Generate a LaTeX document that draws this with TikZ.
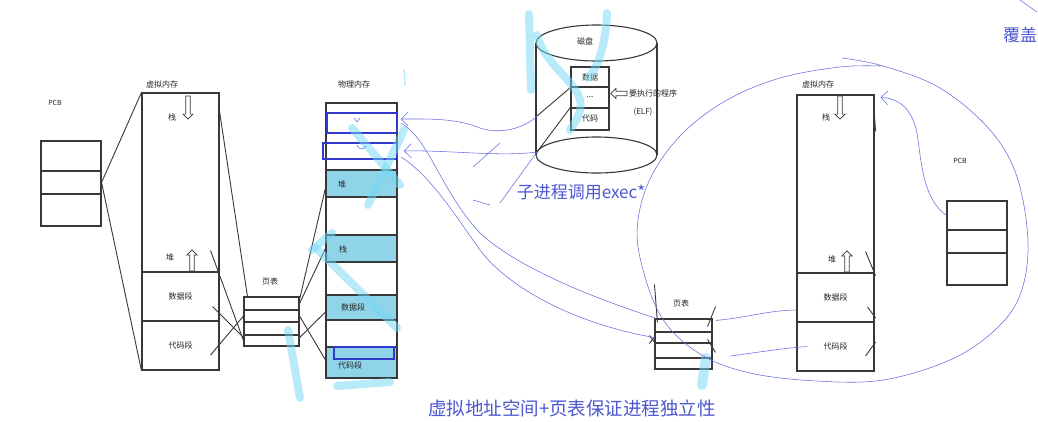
\documentclass[tikz,border=0pt]{standalone}
\usepackage{fontspec}
\setmainfont{Noto Sans CJK SC}
\usepackage{tikz}
\usetikzlibrary{arrows.meta, shapes.arrows, positioning, calc}

\begin{document}
\begin{tikzpicture}
            [
                x=1pt, y=-1pt,
                every node/.style={inner sep=0pt, font=\fontsize{8}{9}\selectfont, text=black!85},
                cell/.style={draw=lineGray, line width=1.1pt, fill=white},
                seg/.style={cell, fill=segCyan, minimum width=71pt},
                slot/.style={draw=slotBlue, line width=1.8pt},
                hollow/.style=
                {
                    single arrow, draw=lineGray, fill=white, line width=0.7pt,
                    inner sep=1.6pt, minimum width=10pt,
                    single arrow head extend=2.5pt, minimum height=#1
                },
                wire/.style={draw=lineGray, line width=0.9pt},
                pen/.style={draw=penBlue, line width=0.55pt},
                barb/.style={-{Straight Barb[length=7pt, width=14pt]}},
                hl/.style={draw=hlCyan, line width=8pt, line cap=round, opacity=0.5},
                note/.style={font=\fontsize{17}{20}\selectfont, text=noteBlue}
            ]
            \definecolor{lineGray}{rgb}{0.22, 0.22, 0.22}
            \definecolor{segCyan}{rgb}{0.56, 0.83, 0.91}
            \definecolor{slotBlue}{rgb}{0.2, 0.22, 0.8}
            \definecolor{penBlue}{rgb}{0.4, 0.43, 0.88}
            \definecolor{noteBlue}{rgb}{0.3, 0.34, 0.82}
            \definecolor{hlCyan}{rgb}{0.45, 0.85, 0.97}
            \path[fill=white, use as bounding box] (0,0) rectangle (1038,421);

            % parent process
            \node (pcbLTag) at (55,103) {\fontsize{7}{8}\selectfont PCB};
            \node[cell, minimum width=60pt, minimum height=30pt] (pcbLa) at (71,156) {};
            \node[cell, minimum width=60pt, minimum height=23pt] (pcbLb) at (71,182.5) {};
            \node[cell, minimum width=60pt, minimum height=32pt] (pcbLc) at (71,210) {};

            \node (vmLTag) at (162,84) {虚拟内存};
            \node[cell, minimum width=77pt, minimum height=179pt] (vmLtop) at (180.5,182.5) {};
            \node[cell, minimum width=77pt, minimum height=49pt] (vmLdata) at (180.5,296.5) {数据段};
            \node[cell, minimum width=77pt, minimum height=49pt] (vmLcode) at (180.5,345.5) {代码段};
            \node (vmLstack) at (172,117) {栈};
            \node (vmLheap) at (170,257) {堆};
            \node[hollow=23pt, rotate=-90] (vmLdown) at (188,106.5) {};
            \node[hollow=21pt, rotate=90] (vmLup) at (192,261.5) {};

            \node (ptLTag) at (270,281) {页表};
            \node[cell, minimum width=55pt, minimum height=13pt] (ptLa) at (271.5,303.5) {};
            \node[cell, minimum width=55pt, minimum height=12pt] (ptLb) at (271.5,316) {};
            \node[cell, minimum width=55pt, minimum height=13pt] (ptLc) at (271.5,328.5) {};
            \node[cell, minimum width=55pt, minimum height=11pt] (ptLd) at (271.5,340.5) {};

            % physical memory
            \node (pmTag) at (354,84) {物理内存};
            \node[cell, minimum width=71pt, minimum height=275pt] (pm) at (361.5,240.5) {};
            \node[seg, minimum height=27pt] (pmHeap) at (361.5,183.5) {};
            \node[seg, minimum height=27pt] (pmStack) at (361.5,248.5) {};
            \node[seg, minimum height=25pt] (pmData) at (361.5,307.5) {};
            \node[seg, minimum height=31pt] (pmCode) at (361.5,362.5) {};
            \node (pmHeapTxt) at (342,184) {堆};
            \node (pmStackTxt) at (343,249) {栈};
            \node (pmDataTxt) at (353,307) {数据段};
            \node (pmCodeTxt) at (350,365) {代码段};
            \node[slot, minimum width=70pt, minimum height=20pt] (pmSlotA) at (362,123) {};
            \node[slot, minimum width=74pt, minimum height=16pt] (pmSlotB) at (360,151) {};
            \node[slot, minimum width=60pt, minimum height=12pt] (pmSlotC) at (364,353) {};

            \draw[wire] (pcbLb.east) -- (vmLtop.north west);
            \draw[wire] (pcbLb.east) -- (vmLcode.south west);
            \draw[wire] ([yshift=-19pt]vmLtop.north east) -- ([xshift=4pt]ptLa.north west);
            \draw[wire] ([shift={(-9pt,22pt)}]vmLtop.south east) -- (ptLd.west);
            \draw[wire] ([shift={(-7pt,-10pt)}]vmLdata.east) -- ([yshift=-2pt]ptLc.south west);
            \draw[wire] ([shift={(-9pt,-9.5pt)}]vmLcode.east) -- (ptLb.west);
            \draw[wire] ([yshift=-3pt]ptLa.north east) -- ([yshift=-4.5pt]pmHeap.west);
            \draw[wire] (ptLa.east) -- (pmStack.west);
            \draw[wire] ([yshift=-2pt]ptLc.south east) -- ([yshift=-4.5pt]pmData.west);
            \draw[wire] (ptLb.east) -- ([yshift=2.5pt]pmCode.west);

            % disk
            \draw[wire, line width=1.1pt] (536,43) -- (536,155) (657,43) -- (657,155);
            \draw[wire, line width=1.1pt] (596.5,43) ellipse [x radius=60.5pt, y radius=18pt];
            \draw[wire, line width=1.1pt] (596.5,155) ellipse [x radius=60.5pt, y radius=18pt];
            \node (diskTag) at (585,41) {磁盘};
            \node[cell, minimum width=38pt, minimum height=20pt] (elfA) at (590,77) {数据};
            \node[cell, minimum width=38pt, minimum height=21pt] (elfB) at (590,97.5) {...};
            \node[cell, minimum width=38pt, minimum height=22pt] (elfC) at (590,119) {代码};
            \node[hollow=16pt, rotate=180] (elfPtr) at (620,93.5) {};
            \node[anchor=west] (elfTag) at (629,93) {要执行的程序};
            \node (elfKind) at (643,112) {(ELF)};
            \coordinate (diskL1) at (537,116);
            \coordinate (diskL2) at (537,152);
            \draw[wire] (elfA.south west) -- (diskL1);
            \draw[wire] (elfC.north west) -- (diskL2);

            % child process
            \node (vmRTag) at (818,84) {虚拟内存};
            \node[cell, minimum width=77pt, minimum height=178pt] (vmRtop) at (835.5,184) {};
            \node[cell, minimum width=77pt, minimum height=49pt] (vmRdata) at (835.5,297.5) {数据段};
            \node[cell, minimum width=77pt, minimum height=49pt] (vmRcode) at (835.5,346.5) {代码段};
            \node (vmRstack) at (826,117) {栈};
            \node (vmRheap) at (832,259) {堆};
            \node[hollow=23pt, rotate=-90] (vmRdown) at (840,106.5) {};
            \node[hollow=21pt, rotate=90] (vmRup) at (847,262.5) {};

            \node (pcbRTag) at (960,161) {\fontsize{7}{8}\selectfont PCB};
            \node[cell, minimum width=60pt, minimum height=29pt] (pcbRa) at (977,215.5) {};
            \node[cell, minimum width=60pt, minimum height=23pt] (pcbRb) at (977,241.5) {};
            \node[cell, minimum width=60pt, minimum height=32pt] (pcbRc) at (977,269) {};

            \node (ptRTag) at (681,303) {页表};
            \node[cell, minimum width=57pt, minimum height=13pt] (ptRa) at (683.5,325.5) {};
            \node[cell, minimum width=57pt, minimum height=11pt] (ptRb) at (683.5,337.5) {};
            \node[cell, minimum width=57pt, minimum height=15pt] (ptRc) at (683.5,350.5) {};
            \node[cell, minimum width=57pt, minimum height=11pt] (ptRd) at (683.5,363.5) {};

            \draw[wire] ([yshift=-22pt]vmRtop.north east) -- ([shift={(1pt,-37pt)}]vmRtop.north east);
            \draw[wire] ([shift={(-9pt,22pt)}]vmRtop.south east) -- ([shift={(1pt,-2pt)}]vmRtop.south east);
            \draw[wire] ([shift={(-7pt,-9.5pt)}]vmRdata.east) -- ([shift={(1pt,-20.5pt)}]vmRdata.east);
            \draw[wire] ([shift={(-9pt,-9.5pt)}]vmRcode.east) -- ([shift={(1pt,4.5pt)}]vmRcode.east);
            \draw[wire] ([yshift=34pt]ptRa.north west) -- ([shift={(3pt,-4pt)}]ptRa.north west);
            \draw[wire] ([shift={(-5pt,-8pt)}]ptRa.north east) -- ([shift={(3pt,12pt)}]ptRa.north east);
            \draw[wire] ([shift={(-5pt,3pt)}]ptRc.north east) -- ([shift={(3pt,-10pt)}]ptRc.north east);
            \draw[wire] ([shift={(-5pt,2pt)}]ptRb.west) -- ([shift={(1pt,-6pt)}]ptRb.west);
            \draw[wire] ([shift={(-5pt,-6pt)}]ptRb.west) -- ([shift={(1pt,2pt)}]ptRb.west);

            % highlighter
            \draw[hl] (529,14) -- (531,90);
            \draw[hl] (537,35) .. controls (545,65) and (575,80) .. (580,100) .. controls (583,112) and (575,122) .. (570,130);
            \draw[hl] (607,13) .. controls (606,40) and (600,65) .. (588,78);
            \draw[hl] (404,130) -- (368,205);
            \draw[hl] (352,128) -- (400,185);
            \draw[hl] (316,248) -- (397,328);
            \draw[hl] (312,250) -- (332,233);
            \draw[hl] (288,330) -- (300,398);
            \draw[hl] (337,386) -- (390,382);
            \draw[hl, line width=10pt] (706,358) -- (702,385);
            \draw[hl, line width=1.5pt] (404,70) -- (405,85);

            % pen notes
            \draw[pen] plot[smooth, tension=0.6] coordinates
            {
                (842,58) (883,66) (940,88) (990,130) (1017,177) (1028,243) (1020,295)
                (995,330) (950,360) (883,380) (817,381) (750,373) (700,354) (662,318)
                (641,262) (638,220) (652,175) (683,133) (727,100) (780,78) (840,67) (880,66)
            };
            \draw[pen] (1020,0) -- (1037,12);
            \draw[pen, barb] (pcbRa.west) .. controls (925,200) and (922,170) .. (918,140)
                .. controls (914,105) and (895,98) .. ([shift={(6pt,-3pt)}]vmRtop.north east);
            \draw[pen] ([shift={(3pt,-2pt)}]ptRa.north east) .. controls (745,318) and (770,310) .. ([yshift=-12.5pt]vmRdata.west);
            \draw[pen] ([shift={(18pt,-5.5pt)}]ptRc.east) .. controls (760,352) and (785,348) .. ([xshift=11pt]vmRcode.west);
            \draw[pen, barb] (diskL1) .. controls (525,128) and (500,135) .. (480,128)
                .. controls (455,118) and (430,119) .. ([shift={(3pt,4pt)}]pmSlotA.east);
            \draw[pen, barb] (diskL2) .. controls (500,157) and (450,150) .. ([xshift=6pt]pmSlotB.east);
            \draw[pen] ([xshift=3pt]pmSlotA.east) .. controls (430,140) and (440,190) .. (480,233)
                .. controls (520,270) and (600,300) .. ([xshift=2pt]ptRa.north west);
            \draw[pen] ([shift={(3pt,-6pt)}]pmSlotB.east) .. controls (430,175) and (455,215) .. (480,250)
                .. controls (510,290) and (580,325) .. (ptRb.west);
            \draw[pen] (473,167) -- (500,143);
            \draw[pen] (473,200) -- (490,205);
            \draw[pen] (500,203) -- (diskL2);
            \draw[pen] (354,118) -- (357,122) -- (360,118);
            \draw[pen] (357,145) .. controls (359,150) and (363,150) .. (366,146);

            \node[note] (execNote) at (581,192) {子进程调用exec*};
            \node[note, font=\fontsize{18.5}{22}\selectfont] (indepNote) at (572,408) {虚拟地址空间+页表保证进程独立性};
            \node[note] (coverNote) at (1020,35) {覆盖};
        \end{tikzpicture}
\end{document}
